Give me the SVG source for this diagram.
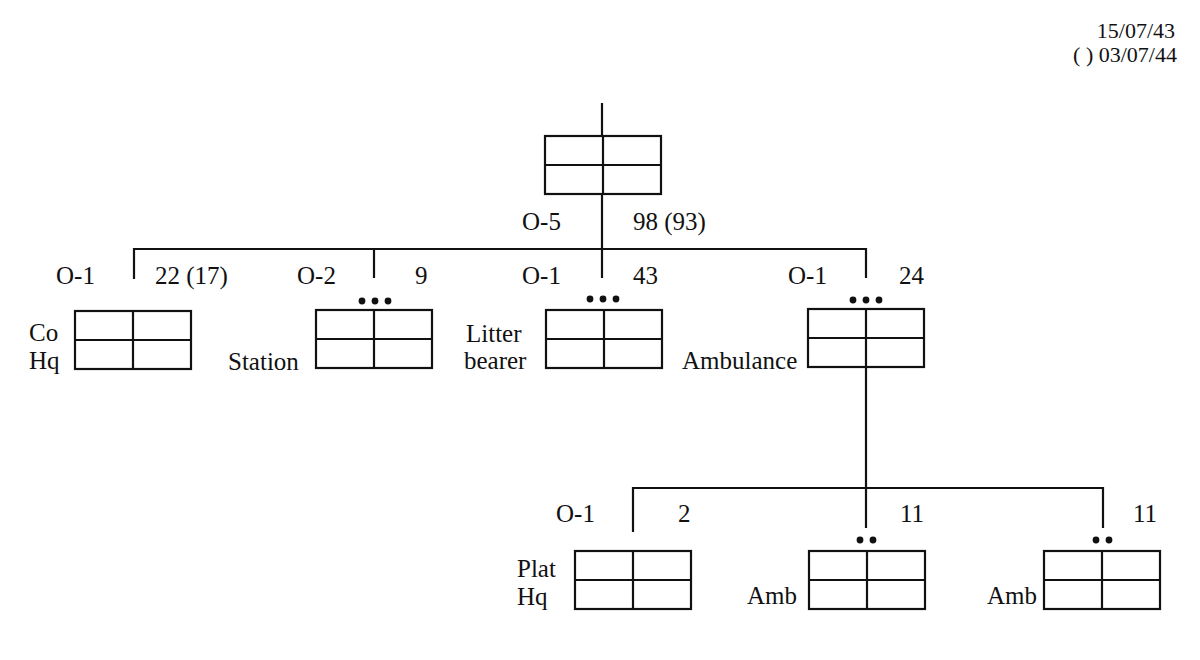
<svg xmlns="http://www.w3.org/2000/svg" width="1200" height="660" viewBox="0 0 1200 660">
<style>
.b{fill:none;stroke:#111;stroke-width:2.2}
.c{fill:none;stroke:#111;stroke-width:2.2}
text{font-family:"Liberation Serif","Times New Roman",serif;font-size:25px;fill:#111}
.d{font-size:22px}
.e{text-anchor:end}
.dot{fill:#111}
</style>
<defs>
<g id="box"><rect class="b" x="0" y="0" width="116" height="58"/><path class="b" d="M0 29H116M58 0V58"/></g>
</defs>
<rect width="1200" height="660" fill="#fff"/>
<text class="d e" x="1175" y="38">15/07/43</text>
<text class="d e" x="1177" y="62">( ) 03/07/44</text>
<g id="connectors">
<path class="c" d="M602 103V135"/>
<path class="c" d="M602 194V278"/>
<path class="c" d="M134 279V249H866V278"/>
<path class="c" d="M374 249V278"/>
<path class="c" d="M866 368V528"/>
<path class="c" d="M633 532V488H1103V528"/>
</g>
<g id="top"><use href="#box" x="545" y="136"/>
<text x="522" y="230">O-5</text><text x="633" y="230">98 (93)</text></g>
<g id="coHq"><use href="#box" x="75" y="311"/>
<text x="56" y="284">O-1</text><text x="155" y="284">22 (17)</text>
<text x="29" y="341">Co</text><text x="29" y="369">Hq</text></g>
<g id="station"><use href="#box" x="316" y="310"/>
<text x="297" y="284">O-2</text><text x="415" y="284">9</text>
<circle class="dot" cx="362" cy="301" r="3.4"/><circle class="dot" cx="375" cy="301" r="3.4"/><circle class="dot" cx="388" cy="301" r="3.4"/>
<text x="228" y="370">Station</text></g>
<g id="litter"><use href="#box" x="546" y="310"/>
<text x="522" y="284">O-1</text><text x="633" y="284">43</text>
<circle class="dot" cx="590" cy="299" r="3.4"/><circle class="dot" cx="603" cy="299" r="3.4"/><circle class="dot" cx="616" cy="299" r="3.4"/>
<text x="466" y="342">Litter</text><text x="464" y="369">bearer</text></g>
<g id="ambulance"><use href="#box" x="808" y="309"/>
<text x="788" y="284">O-1</text><text x="899" y="284">24</text>
<circle class="dot" cx="853" cy="300" r="3.4"/><circle class="dot" cx="866" cy="300" r="3.4"/><circle class="dot" cx="879" cy="300" r="3.4"/>
<text x="682" y="369">Ambulance</text></g>
<g id="platHq"><use href="#box" x="575" y="551"/>
<text x="556" y="522">O-1</text><text x="678" y="522">2</text>
<text x="517" y="577">Plat</text><text x="517" y="605">Hq</text></g>
<g id="amb1"><use href="#box" x="809" y="551"/>
<text x="900" y="522">11</text>
<circle class="dot" cx="860" cy="540" r="3.4"/><circle class="dot" cx="873" cy="540" r="3.4"/>
<text x="747" y="604">Amb</text></g>
<g id="amb2"><use href="#box" x="1044" y="551"/>
<text x="1133" y="522">11</text>
<circle class="dot" cx="1096" cy="540" r="3.4"/><circle class="dot" cx="1109" cy="540" r="3.4"/>
<text x="987" y="604">Amb</text></g>
</svg>
